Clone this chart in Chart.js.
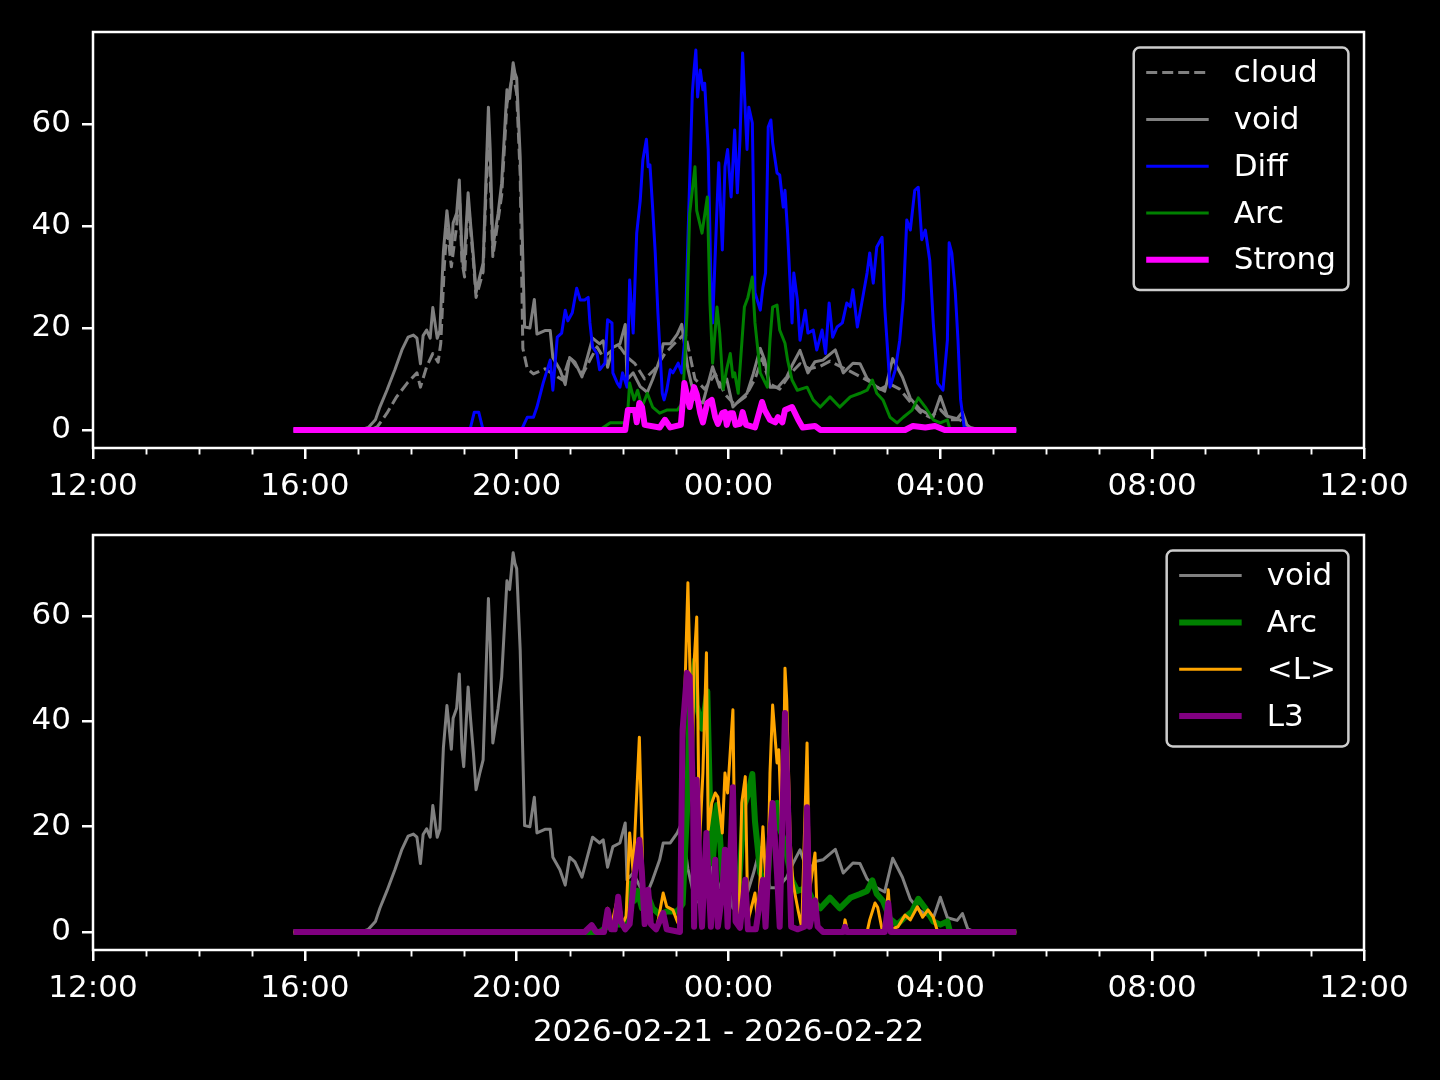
<!DOCTYPE html>
<html>
<head>
<meta charset="utf-8">
<script src="https://cdn.jsdelivr.net/npm/chart.js@4.4.1/dist/chart.umd.min.js"></script>
<style>
  html, body { margin: 0; padding: 0; background: #000; }
  #wrap { position: relative; width: 1440px; height: 1080px; overflow: hidden; background: #000; }
  canvas { position: absolute; left: 0; }
  #topChart { top: 0; }
  #bottomChart { top: 500px; }
</style>
</head>
<body>
<div id="wrap">
  <canvas id="topChart" width="1440" height="500"></canvas>
  <canvas id="bottomChart" width="1440" height="580"></canvas>
</div>
<script>
// Axis ticks (x in minutes after 12:00 on 2026-02-21)
const xTickMins = [0, 240, 480, 720, 960, 1200, 1440];
const xTickLabels = ['12:00', '16:00', '20:00', '00:00', '04:00', '08:00', '12:00'];
const yTicks = [0, 20, 40, 60];
const xTitle = '2026-02-21 - 2026-02-22';

// cloud
const cloudMin = [227, 314, 322, 333, 344, 356, 367, 371, 378, 385, 391, 394, 398, 401, 406, 412, 415, 418, 421, 425, 431, 434, 442, 448, 453, 463, 469, 476, 480, 484, 487, 492, 499, 512, 521, 532, 540, 548, 555, 563, 571, 578, 589, 597, 605, 614, 625, 637, 648, 659, 671, 682, 693, 705, 716, 727, 739, 750, 758, 767, 778, 790, 801, 812, 824, 835, 846, 858, 869, 880, 892, 903, 914, 926, 937, 948, 960, 971, 982, 994, 1005, 1046];
const cloudVal = [0, 0, 0.6, 3.3, 6.5, 9.2, 11.2, 8.4, 12.4, 15, 13.3, 17, 32, 40, 32, 40, 47, 33, 30, 45, 33, 26, 31, 60, 34, 46, 64, 70, 66, 50, 16, 12, 11, 12, 11, 9.8, 14.3, 12.4, 11, 13.7, 16.3, 14.3, 15.7, 16.3, 14.3, 13, 10, 12, 15, 17, 19, 10, 8, 11, 7, 5, 6.5, 10, 14, 9, 8, 11, 13, 12, 12.5, 13.5, 12.5, 11.5, 10.5, 9.5, 8, 9, 8, 5.5, 3.5, 2.5, 4, 2, 2, 0.5, 0, 0];

// void
const voidMin = [227, 303, 312, 320, 325, 333, 342, 350, 357, 363, 367, 371, 374, 378, 382, 385, 390, 393, 397, 401, 406, 408, 412, 415, 418, 420, 425, 428, 431, 434, 438, 442, 448, 450, 453, 459, 463, 469, 472, 476, 478, 480, 484, 489, 495, 500, 503, 512, 518, 521, 529, 535, 540, 546, 554, 560, 566, 574, 578, 583, 589, 597, 603, 605, 612, 620, 628, 634, 642, 646, 654, 662, 667, 674, 682, 691, 702, 710, 718, 725, 733, 741, 748, 756, 761, 767, 776, 786, 793, 801, 810, 818, 827, 841, 850, 861, 869, 877, 888, 897, 906, 917, 926, 937, 952, 960, 968, 979, 985, 991, 999, 1046];
const voidVal = [0, 0, 0.5, 2, 4.5, 7.8, 11.8, 15.7, 18.2, 18.6, 18, 13, 18.5, 19.6, 18, 24, 18, 19.5, 35, 43, 34.7, 40.6, 42.5, 49, 34.7, 31.4, 46.5, 40, 34, 27, 30, 32.7, 63.3, 55, 35.9, 42.5, 48.4, 66.7, 65, 72, 70, 69, 53.5, 20.2, 20, 25.6, 18.8, 19.5, 19.5, 14.2, 11.8, 8.9, 14.2, 13.3, 10.4, 14.2, 18, 16.9, 17.5, 12.3, 16.2, 16.9, 20.7, 9.9, 11.2, 8.5, 7.4, 9.9, 13.7, 16.9, 16.9, 18.8, 20.7, 12, 6, 5.3, 12.4, 8.4, 10, 4.5, 5.9, 7.2, 11, 16, 13.7, 8.4, 8.4, 10.4, 13, 15.6, 11.2, 13.4, 13.7, 15.7, 11.2, 13.1, 13, 10.1, 8.4, 7.6, 14, 10.4, 6.2, 4, 2.6, 6.6, 2.7, 2.2, 3.5, 0.6, 0, 0];

// Diff
const diffMin = [227, 427, 432, 437, 442, 484, 487, 492, 499, 503, 510, 518, 521, 526, 531, 535, 538, 543, 548, 552, 557, 561, 563, 566, 571, 574, 580, 583, 588, 589, 594, 597, 600, 605, 608, 612, 616, 620, 623, 627, 629, 631, 634, 637, 640, 645, 647, 650, 654, 657, 663, 667, 671, 674, 679, 681, 683, 685, 688, 691, 693, 697, 700, 702, 707, 709, 713, 716, 719, 723, 727, 730, 733, 736, 741, 743, 747, 750, 756, 759, 762, 765, 768, 770, 775, 778, 782, 784, 787, 792, 794, 798, 801, 807, 810, 816, 820, 826, 830, 834, 838, 843, 849, 854, 858, 861, 866, 871, 877, 880, 884, 888, 894, 897, 903, 909, 914, 918, 922, 926, 931, 935, 939, 943, 948, 952, 957, 963, 968, 970, 973, 977, 980, 983, 987, 994, 1046];
const diffVal = [0, 0, 3.5, 3.5, 0, 0, 0.6, 2.5, 2.5, 4.5, 9.2, 13.7, 7.8, 18.2, 19, 23.5, 21.4, 23, 27.8, 25.5, 25.5, 26, 21, 16.3, 15, 11.8, 13.1, 21.6, 21, 11.2, 9.2, 8.4, 11.2, 8.4, 29.4, 19, 38.6, 45, 53, 57, 51.6, 52, 43.7, 34.7, 23, 7.2, 5.9, 7.8, 11.8, 11.2, 13.1, 11.2, 19, 37.3, 66, 70.6, 74.5, 65.3, 70.6, 66.7, 68, 55, 30, 21, 43.7, 52.4, 35.3, 51.6, 55, 45.7, 58.8, 46.5, 57, 73.9, 55, 63.3, 60.2, 26.9, 23.5, 28, 30.8, 59.4, 60.8, 56.3, 50.4, 50, 43.7, 47, 38.6, 21, 30.8, 25.5, 17.6, 23.5, 19, 19.6, 15.7, 19.6, 15, 24.9, 18.2, 20.2, 21, 24.9, 24.2, 27.5, 20.2, 24.9, 30.8, 34.7, 28.8, 35.9, 37.8, 24.1, 8.4, 11.8, 17.6, 25.5, 41.2, 39.2, 47, 47.6, 37.3, 39.2, 33.3, 21, 9.2, 7.8, 17.6, 36.7, 34.7, 26.9, 17.6, 5.9, 0.6, 0, 0];

// Arc
const arcMin = [227, 574, 586, 605, 608, 613, 617, 622, 628, 634, 642, 650, 662, 668, 673, 676, 682, 684, 690, 696, 699, 702, 707, 710, 714, 718, 722, 725, 727, 731, 738, 742, 747, 750, 756, 764, 767, 770, 775, 778, 784, 787, 792, 798, 809, 816, 824, 835, 846, 858, 869, 877, 883, 888, 895, 903, 911, 918, 928, 935, 943, 952, 960, 968, 971, 1046];
const arcVal = [0, 0, 1.4, 1.4, 9.2, 5.9, 7.8, 4.5, 7.2, 4.5, 3.3, 3.9, 3.9, 5.3, 23, 42.5, 51.6, 43, 38.6, 45.7, 24.9, 13.1, 24.1, 19, 8, 12, 15, 10.4, 11.2, 7.2, 24.1, 26, 30, 21, 11.2, 8.4, 17.6, 24.1, 24.5, 19.6, 17, 13.7, 9.8, 7.8, 8.4, 5.9, 4.5, 6.5, 4.5, 6.5, 7.2, 7.8, 9.8, 7.2, 5.9, 2.5, 1.4, 2.5, 3.9, 6.3, 4.5, 2, 1.4, 2, 0, 0];

// Strong
const strongMin = [227, 603, 606, 614, 616, 619, 622, 625, 642, 648, 654, 666, 670, 674, 676, 681, 684, 688, 691, 696, 701, 705, 708, 713, 716, 718, 722, 725, 728, 733, 736, 740, 750, 758, 761, 767, 773, 776, 781, 784, 792, 799, 804, 818, 824, 920, 929, 943, 954, 965, 1046];
const strongVal = [0, 0, 3.9, 3.9, 1.5, 5.3, 4.5, 1, 0.5, 2, 0.5, 1, 9.2, 6, 4.5, 8.4, 7, 3.3, 1.5, 5.3, 5.9, 2.5, 1.2, 3.3, 3.5, 1, 3.3, 3.3, 1, 1.2, 3.5, 1, 0.5, 5.5, 3.9, 2, 1.5, 2.5, 1.5, 3.9, 4.5, 2, 0.5, 0.8, 0, 0, 0.8, 0.5, 0.8, 0, 0];

// <L>
const lMeanMin = [227, 557, 565, 570, 579, 583, 587, 593, 596, 600, 604, 608, 612, 615, 619, 622, 624, 629, 632, 639, 646, 650, 657, 662, 665, 668, 674, 679, 681, 684, 687, 691, 695, 697, 701, 705, 708, 713, 716, 719, 725, 728, 732, 735, 739, 742, 750, 753, 759, 764, 767, 770, 775, 777, 781, 784, 786, 790, 793, 799, 803, 809, 812, 818, 821, 827, 850, 852, 855, 877, 880, 886, 889, 894, 897, 901, 904, 912, 920, 926, 934, 940, 946, 952, 957, 1046];
const lMeanVal = [0, 0, 1.3, 0, 0, 4.5, 1, 5.5, 6, 1.5, 3, 18.8, 11.2, 22.6, 37, 17.5, 1.5, 7.4, 1.5, 1, 7.4, 4.8, 4.2, 2, 1, 30.2, 66.3, 30.8, 51, 59.8, 16.1, 30.2, 53, 19.4, 24.5, 26.4, 25.6, 18.8, 30.2, 26.4, 42.2, 4, 3, 24.5, 29.5, 2, 7.4, 1.5, 20, 4, 30.2, 43.1, 32.1, 34.6, 15, 50.1, 44, 17, 9.3, 4, 0.8, 35.9, 8, 15, 1, 0, 0, 2.3, 0, 0, 2.3, 5.5, 4.7, 0.5, 0, 8, 0.5, 1, 3.2, 2.3, 4.8, 2.8, 4.2, 2.8, 0, 0];

// L3
const l3Min = [227, 557, 565, 570, 579, 583, 587, 591, 595, 598, 603, 608, 611, 614, 619, 622, 625, 629, 632, 638, 646, 650, 665, 668, 673, 676, 680, 681, 684, 688, 690, 695, 697, 700, 705, 708, 713, 716, 719, 725, 728, 733, 739, 742, 751, 759, 762, 766, 770, 775, 778, 784, 787, 791, 798, 806, 809, 812, 818, 821, 827, 850, 852, 854, 897, 901, 904, 1046];
const l3Val = [0, 0, 1.3, 0, 0, 4.2, 0.5, 0.5, 6.7, 2, 0.5, 1.5, 6.7, 11.2, 17.5, 11, 1.5, 8, 1.5, 0.5, 3.6, 0.5, 0, 38.4, 49.2, 48.5, 23.7, 1, 28.9, 7.4, 1, 18.8, 11, 1, 13.7, 1, 7.4, 15.6, 1, 27.5, 2, 0.8, 9.9, 0.5, 0.5, 9.9, 1, 16, 24.5, 11, 1, 41.6, 26.4, 1, 0.5, 1, 23.7, 1, 6, 1, 0, 0, 1, 0, 0, 5.5, 0, 0];

const FONT = 'DejaVu Sans';
const FS = 31;

Chart.defaults.color = '#ffffff';
Chart.defaults.font.family = FONT;
Chart.defaults.font.size = FS;

function pts(t, v) {
    return t.map((m, i) => ({ x: m, y: v[i] }));
}

function series(label, t, v, color, width, dash) {
    return {
        label,
        data: pts(t, v),
        borderColor: color,
        backgroundColor: color,
        borderWidth: width,
        borderDash: dash || [],
        borderJoinStyle: 'round',
        pointRadius: 0,
        tension: 0,
        fill: false
    };
}

// later datasets on top, like matplotlib
function stack(list) {
    list.forEach((d, i) => { d.order = -i; });
    return list;
}

// frame around plot area (all four spines)
const frame = {
    id: 'frame',
    afterDatasetsDraw(chart) {
        const { ctx, chartArea: a } = chart;
        ctx.save();
        ctx.strokeStyle = '#ffffff';
        ctx.lineWidth = 2.5;
        ctx.strokeRect(a.left, a.top, a.right - a.left, a.bottom - a.top);
        ctx.restore();
    }
};

// hourly minor ticks on x
const minorTicks = {
    id: 'minorTicks',
    afterDraw(chart) {
        const { ctx, chartArea: a, scales: { x } } = chart;
        ctx.save();
        ctx.strokeStyle = '#ffffff';
        ctx.lineWidth = 1.9;
        for (let m = 60; m < 1440; m += 60) {
            if (m % 240 === 0) continue;
            const px = Math.round(x.getPixelForValue(m)) + 0.5;
            ctx.beginPath();
            ctx.moveTo(px, a.bottom);
            ctx.lineTo(px, a.bottom + 6.5);
            ctx.stroke();
        }
        ctx.restore();
    }
};

// matplotlib-style legend box in the upper right
const boxLegend = {
    id: 'boxLegend',
    afterDraw(chart) {
        const { ctx, chartArea: a } = chart;
        const sets = chart.data.datasets;
        const pad = 12.5, handle = 62.5, gap = 25, rowH = 46.8, r = 6;
        ctx.save();
        ctx.font = FS + 'px "' + FONT + '"';
        const textW = Math.max(...sets.map(d => ctx.measureText(d.label).width));
        const w = pad + handle + gap + textW + pad;
        const h = pad * 2 + sets.length * FS + (sets.length - 1) * 15.6;
        const right = a.right - 15.6, top = a.top + 15.6, left = right - w;

        ctx.beginPath();
        ctx.moveTo(left + r, top);
        ctx.arcTo(right, top, right, top + h, r);
        ctx.arcTo(right, top + h, left, top + h, r);
        ctx.arcTo(left, top + h, left, top, r);
        ctx.arcTo(left, top, right, top, r);
        ctx.closePath();
        ctx.fillStyle = 'rgba(0,0,0,0.8)';
        ctx.fill();
        ctx.lineWidth = 2.5;
        ctx.strokeStyle = '#cccccc';
        ctx.stroke();

        sets.forEach((d, i) => {
            const y = top + 25 + i * rowH;
            ctx.beginPath();
            ctx.setLineDash(d.borderDash || []);
            ctx.strokeStyle = d.borderColor;
            ctx.lineWidth = d.borderWidth;
            ctx.moveTo(left + pad, y);
            ctx.lineTo(left + pad + handle, y);
            ctx.stroke();
            ctx.setLineDash([]);
            ctx.fillStyle = '#ffffff';
            ctx.textBaseline = 'middle';
            ctx.textAlign = 'left';
            ctx.fillText(d.label, left + pad + handle + gap, y + 1.5);
        });
        ctx.restore();
    }
};

function makeOptions(yMin, yMax, padTop, xHeight, title) {
    return {
        responsive: false,
        animation: false,
        devicePixelRatio: 1,
        layout: { padding: { top: padTop, right: 76, left: 0, bottom: 0 } },
        plugins: { legend: { display: false }, tooltip: { enabled: false } },
        scales: {
            x: {
                type: 'linear',
                min: 0,
                max: 1440,
                afterBuildTicks: s => { s.ticks = xTickMins.map(v => ({ value: v })); },
                afterFit: s => { s.height = xHeight; },
                ticks: {
                    callback: v => xTickLabels[xTickMins.indexOf(v)],
                    padding: 9,
                    maxRotation: 0,
                    autoSkip: false,
                    color: '#ffffff'
                },
                grid: { drawOnChartArea: false, color: '#ffffff', tickLength: 11, lineWidth: 2.5 },
                border: { display: false },
                title: title
                    ? { display: true, text: title, color: '#ffffff', padding: { top: 0, bottom: 28 } }
                    : { display: false }
            },
            y: {
                type: 'linear',
                min: yMin,
                max: yMax,
                afterBuildTicks: s => { s.ticks = yTicks.map(v => ({ value: v })); },
                afterFit: s => { s.width = 93; },
                ticks: { padding: 11, color: '#ffffff' },
                grid: { drawOnChartArea: false, color: '#ffffff', tickLength: 11, lineWidth: 2.5 },
                border: { display: false }
            }
        }
    };
}

const GRAY = '#808080';

new Chart(document.getElementById('topChart'), {
    type: 'line',
    data: {
        datasets: stack([
            series('cloud', cloudMin, cloudVal, GRAY, 3, [11, 5]),
            series('void', voidMin, voidVal, GRAY, 3),
            series('Diff', diffMin, diffVal, '#0000ff', 3),
            series('Arc', arcMin, arcVal, '#008000', 3),
            series('Strong', strongMin, strongVal, '#ff00ff', 6)
        ])
    },
    options: makeOptions(-3.53, 78.04, 32, 52, null),
    plugins: [frame, minorTicks, boxLegend]
});

new Chart(document.getElementById('bottomChart'), {
    type: 'line',
    data: {
        datasets: stack([
            series('void', voidMin, voidVal, GRAY, 3),
            series('Arc', arcMin, arcVal, '#008000', 6),
            series('<L>', lMeanMin, lMeanVal, '#ffa500', 3),
            series('L3', l3Min, l3Val, '#800080', 6)
        ])
    },
    options: makeOptions(-3.42, 75.38, 35, 130, xTitle),
    plugins: [frame, minorTicks, boxLegend]
});
</script>
</body>
</html>
